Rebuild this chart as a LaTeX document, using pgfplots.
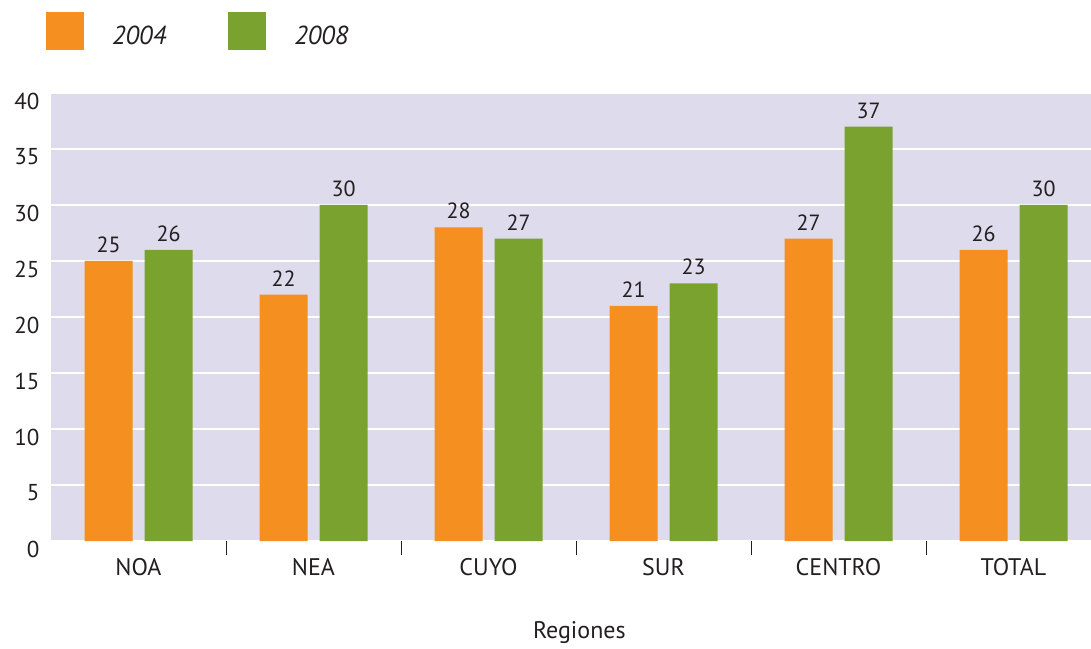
\documentclass[border=0pt]{standalone}
\usepackage{pgfplots}
\pgfplotsset{compat=1.18}
\usepackage{fontspec}
\setmainfont{PT Sans}
\definecolor{cOr}{HTML}{F58F1F}
\definecolor{cGr}{HTML}{7AA22F}
\definecolor{cBg}{HTML}{DEDCEC}
\definecolor{cTx}{HTML}{231F20}
\begin{document}
\begin{tikzpicture}
\useasboundingbox (0,0) rectangle (1091pt,648pt);
\begin{axis}[
  at={(51pt,107pt)}, anchor=south west,
  scale only axis, width=1040pt, height=448pt,
  xmin=-0.5, xmax=5.443, ymin=0, ymax=40,
  ytick={0,5,...,40},
  xtick={0,...,5}, xticklabels={NOA,NEA,CUYO,SUR,CENTRO,TOTAL},
  minor xtick={0.5,1.5,...,4.5},
  xtick pos=bottom, ytick pos=left,
  major tick length=0pt, minor tick length=14pt, tick align=center,
  minor tick style={draw=cTx, line width=1pt},
  axis line style={draw=none},
  axis background/.style={fill=cBg},
  ymajorgrids, grid style={white, line width=1.5pt},
  /pgf/number format/assume math mode=true,
  yticklabel style={font=\fontsize{23}{27}\selectfont, text=cTx, xshift=-8pt, yshift=-8pt},
  xticklabel style={font=\fontsize{24}{28}\selectfont, text=cTx, yshift=-14pt},
  xlabel={Regiones},
  xlabel style={at={(axis description cs:0.508,0)}, anchor=north, yshift=-77pt, font=\fontsize{24}{28}\selectfont, text=cTx},
  ybar, bar width=48pt,
  nodes near coords,
  nodes near coords style={font=\fontsize{22}{26}\selectfont, text=cTx, inner sep=8pt},
  legend style={at={(axis description cs:-0.0048,1.1808)}, anchor=north west, draw=none, fill=none,
    inner sep=0pt, column sep=0pt, legend columns=2,
    nodes={inner sep=0pt, font=\fontsize{26}{30}\selectfont\itshape, text=cTx},
    /tikz/every even column/.append style={column sep=62pt}},
]
\addplot[fill=cOr, draw=none, bar shift=-30pt,
  legend image code/.code={\fill[cOr] (0pt,-14pt) rectangle (38pt,24pt); \path (66pt,0pt);}]
  coordinates {(0,25) (1,22) (2,28) (3,21) (4,27) (5,26)};
\addlegendentry{2004}
\addplot[fill=cGr, draw=none, bar shift=30pt,
  legend image code/.code={\fill[cGr] (0pt,-14pt) rectangle (38pt,24pt); \path (66pt,0pt);}]
  coordinates {(0,26) (1,30) (2,27) (3,23) (4,37) (5,30)};
\addlegendentry{2008}
\end{axis}
\end{tikzpicture}
\end{document}
